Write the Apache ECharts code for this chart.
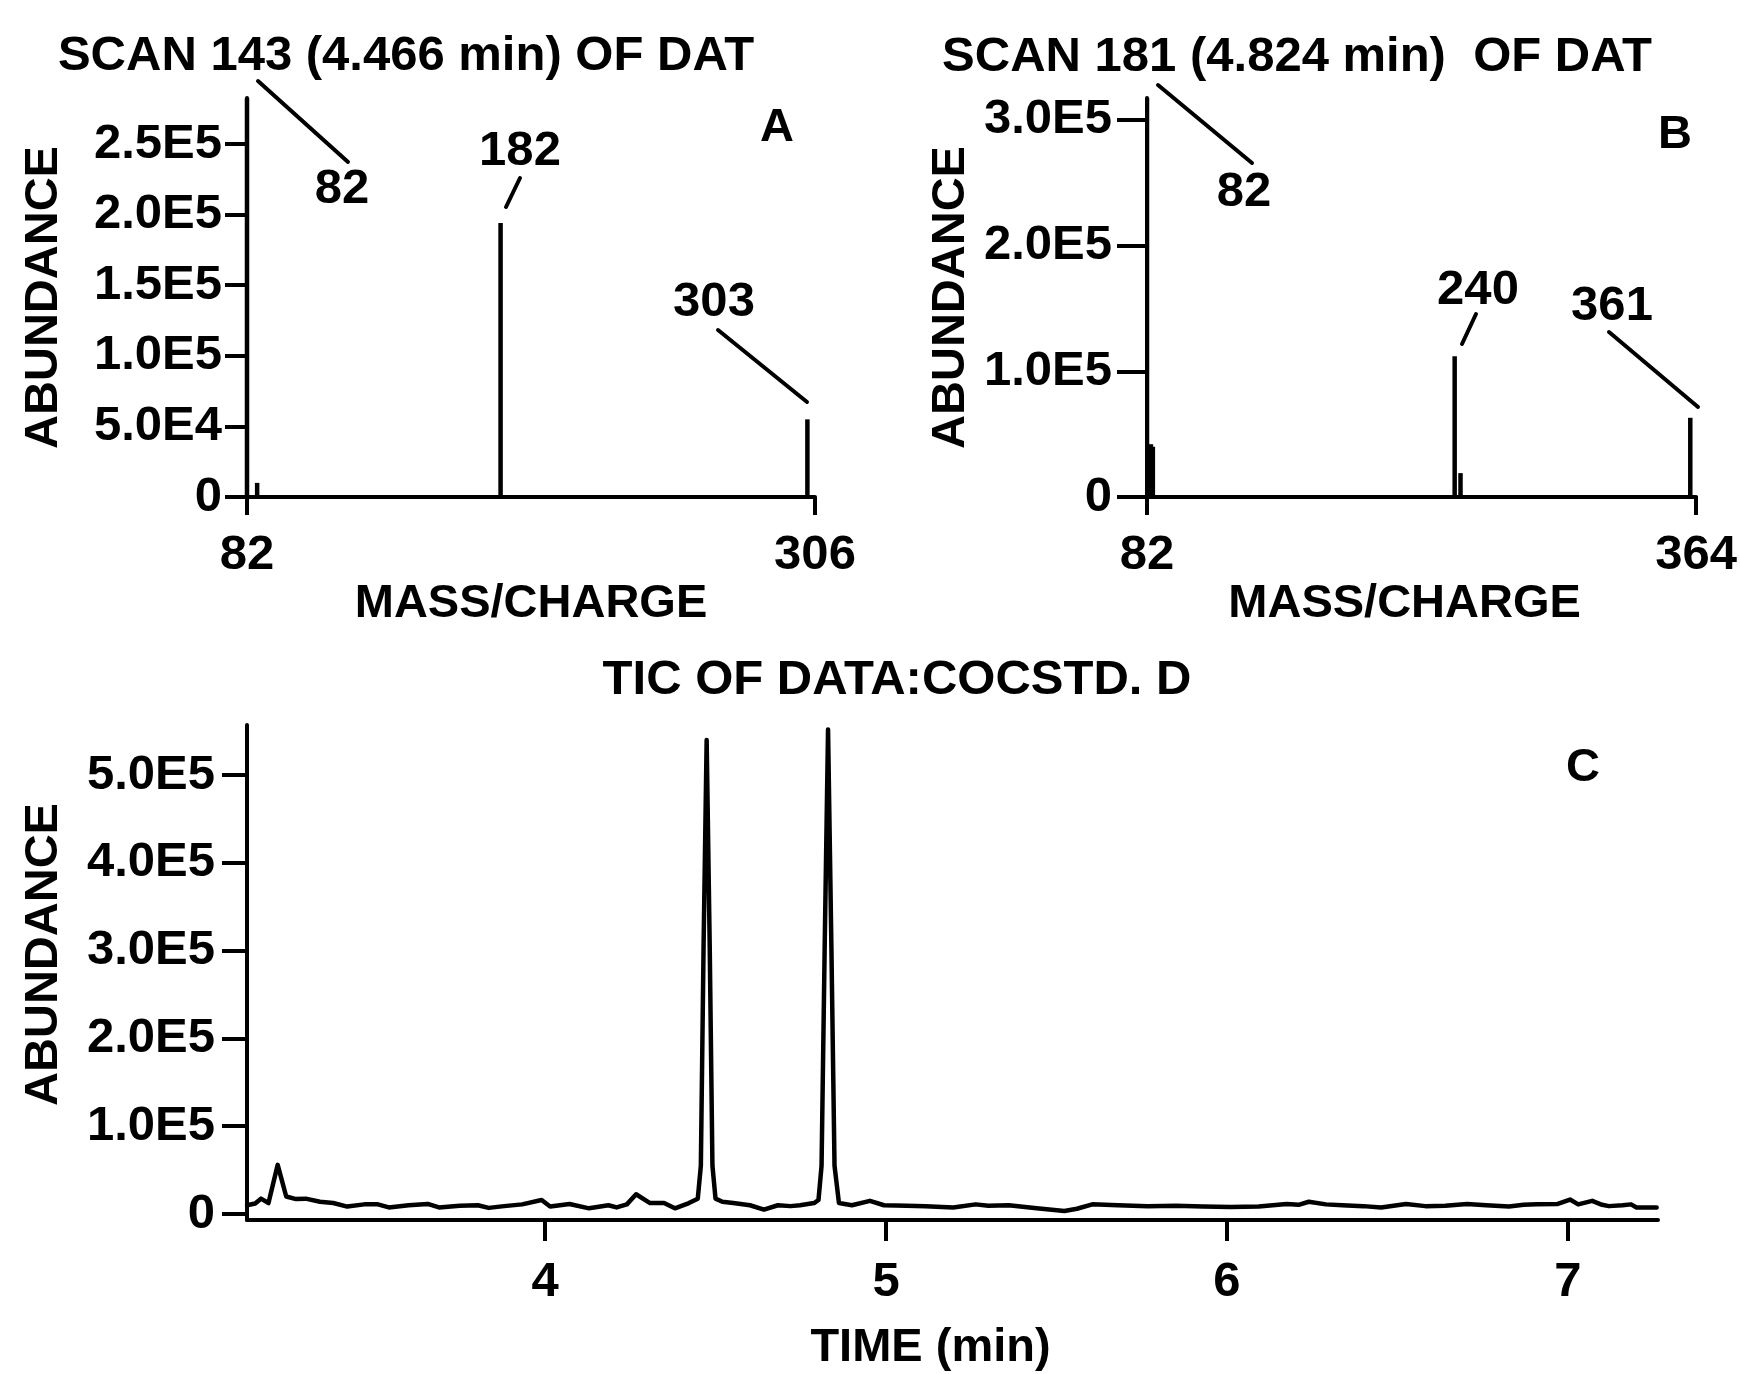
<!DOCTYPE html>
<html>
<head>
<meta charset="utf-8">
<script src="https://cdn.jsdelivr.net/npm/echarts@6/dist/echarts.min.js"></script>
<style>
  html, body { margin: 0; padding: 0; background: #fff; }
  #chart { width: 1740px; height: 1374px; }
</style>
</head>
<body>
<div id="chart"></div>
<script>
// spectrum A: scan 143
const massA = [82, 86, 182, 303];
const abundA = [300000, 10000, 194000, 55000];
// spectrum B: scan 181
const massB = [82, 84, 85, 240, 243, 361];
const abundB = [330000, 42000, 40000, 112000, 19000, 63000];
// total ion chromatogram
const ticTime = [
  3.126, 3.15, 3.167, 3.189, 3.216, 3.241, 3.27, 3.298, 3.34, 3.379,
  3.42, 3.47, 3.51, 3.542, 3.6, 3.656, 3.689, 3.75, 3.803, 3.835,
  3.88, 3.933, 3.99, 4.015, 4.072, 4.129, 4.186, 4.21, 4.24, 4.267,
  4.308, 4.349, 4.381, 4.422, 4.448, 4.457, 4.465, 4.474, 4.483, 4.491,
  4.5, 4.52, 4.552, 4.601, 4.642, 4.683, 4.72, 4.748, 4.789, 4.802,
  4.811, 4.82, 4.83, 4.84, 4.849, 4.862, 4.9, 4.953, 4.994, 5.06,
  5.116, 5.197, 5.263, 5.3, 5.36, 5.442, 5.523, 5.56, 5.605, 5.68,
  5.768, 5.85, 5.93, 6.01, 6.093, 6.175, 6.21, 6.24, 6.29, 6.338,
  6.4, 6.452, 6.525, 6.582, 6.64, 6.704, 6.76, 6.827, 6.87, 6.908,
  6.97, 7.006, 7.03, 7.071, 7.1, 7.12, 7.16, 7.185, 7.201, 7.26
];
const ticAbund = [
  10000, 12000, 17500, 12500, 56000, 20000, 17000, 17500, 14000, 12500,
  8500, 11000, 11000, 7500, 10000, 11500, 7500, 9500, 10000, 7000,
  9000, 11000, 16000, 8500, 11500, 6500, 10000, 7500, 11000, 22500,
  12500, 12500, 6500, 12500, 17500, 55000, 305000, 540000, 305000, 55000,
  17500, 14000, 12500, 10000, 5000, 10000, 9000, 10000, 12500, 16000,
  55000, 300000, 552000, 300000, 55000, 12500, 10000, 15000, 10000, 9500,
  9000, 7500, 11000, 9500, 10000, 6500, 3500, 6000, 11000, 10000,
  9000, 9500, 8500, 8000, 8500, 11500, 10500, 14000, 11000, 10000,
  9000, 7500, 11500, 9000, 9500, 11500, 10000, 8500, 10500, 11000,
  11500, 16500, 11000, 15000, 10500, 9000, 10000, 11000, 7500, 7500
];
// ticks and labels
const xTicksA = [82, 306];
const yTicksA = [0, 50000, 100000, 150000, 200000, 250000];
const yLabelsA = ['0', '5.0E4', '1.0E5', '1.5E5', '2.0E5', '2.5E5'];
const xTicksB = [82, 364];
const yTicksB = [0, 100000, 200000, 300000];
const yLabelsB = ['0', '1.0E5', '2.0E5', '3.0E5'];
const xTicksC = [4, 5, 6, 7];
const yTicksC = [0, 100000, 200000, 300000, 400000, 500000];
const yLabelsC = ['0', '1.0E5', '2.0E5', '3.0E5', '4.0E5', '5.0E5'];

const FONT = "'Liberation Sans', Arial, sans-serif";
const INK = '#000';
const LW = 4;

const pairs = (xs, ys) => xs.map((x, i) => [x, ys[i]]);
const labelFor = (ticks, labels) => (v) => {
  const i = ticks.indexOf(v);
  return i < 0 ? '' : labels[i];
};
const txt = (size) => ({ color: INK, fontSize: size, fontFamily: FONT, fontWeight: 'bold' });

function xAxisOf(grid, min, max, ticks, tickLen, margin, name, nameGap, padding) {
  return {
    gridIndex: grid, type: 'value', min: min, max: max,
    axisLine: { show: true, onZero: false, lineStyle: { color: INK, width: LW } },
    axisTick: { show: true, customValues: ticks, length: tickLen, lineStyle: { color: INK, width: LW } },
    axisLabel: Object.assign({ customValues: ticks, margin: margin, formatter: (v) => String(v) }, txt(49)),
    splitLine: { show: false },
    name: name, nameLocation: 'middle', nameGap: nameGap,
    nameTextStyle: Object.assign({ padding: padding }, txt(47))
  };
}

function yAxisOf(grid, min, max, ticks, labels, tickLen, margin, nameGap, padding) {
  return {
    gridIndex: grid, type: 'value', min: min, max: max,
    axisLine: { show: true, onZero: false, lineStyle: { color: INK, width: LW } },
    axisTick: { show: true, customValues: ticks, length: tickLen, lineStyle: { color: INK, width: LW } },
    axisLabel: Object.assign({ customValues: ticks, margin: margin, formatter: labelFor(ticks, labels) }, txt(49)),
    splitLine: { show: false },
    name: 'ABUNDANCE', nameLocation: 'middle', nameGap: nameGap,
    nameTextStyle: Object.assign({ padding: padding }, txt(47))
  };
}

// annotations (pixel layout)
const notes = [
  { t: 'SCAN 143 (4.466 min) OF DAT', x: 406, y: 56, s: 49 },
  { t: 'SCAN 181 (4.824 min)  OF DAT', x: 1297, y: 57, s: 49 },
  { t: 'TIC OF DATA:COCSTD. D', x: 897, y: 680, s: 49 },
  { t: 'A', x: 777, y: 128, s: 47 },
  { t: 'B', x: 1675, y: 135, s: 47 },
  { t: 'C', x: 1583, y: 768, s: 47 },
  { t: '82', x: 342, y: 189, s: 49 },
  { t: '182', x: 520, y: 151, s: 49 },
  { t: '303', x: 714, y: 302, s: 49 },
  { t: '82', x: 1244, y: 192, s: 49 },
  { t: '240', x: 1478, y: 290, s: 49 },
  { t: '361', x: 1612, y: 306, s: 49 }
];
const leaders = [
  [258, 81, 348, 162], [520, 178, 506, 207], [718, 330, 807, 402],
  [1158, 85, 1252, 163], [1476, 314, 1462, 344], [1609, 332, 1698, 407]
];

const chart = echarts.init(document.getElementById('chart'));
chart.setOption({
  animation: false,
  backgroundColor: '#fff',
  grid: [
    { left: 247, top: 98, right: 925, bottom: 877 },
    { left: 1147, top: 98, right: 35, bottom: 877 },
    { left: 247, top: 725, right: 82, bottom: 154 }
  ],
  xAxis: [
    xAxisOf(0, 82, 306, xTicksA, 18, 34, 'MASS/CHARGE', 77, [0, 0, 0, 0]),
    xAxisOf(1, 82, 364, xTicksB, 18, 34, 'MASS/CHARGE', 79, [0, 34, 0, 0]),
    xAxisOf(2, 3.126, 7.264, xTicksC, 21, 38, 'TIME (min)', 105, [0, 44, 0, 0])
  ],
  yAxis: [
    yAxisOf(0, 0, 282600, yTicksA, yLabelsA, 22, 25, 179, [0, 0, 0, 0]),
    yAxisOf(1, 0, 317400, yTicksB, yLabelsB, 30, 35, 172, [0, 0, 0, 0]),
    yAxisOf(2, -6800, 557000, yTicksC, yLabelsC, 25, 32, 179, [0, 0, 0, 36])
  ],
  series: [
    {
      type: 'bar', xAxisIndex: 0, yAxisIndex: 0, barWidth: 4.5,
      data: pairs(massA, abundA), itemStyle: { color: INK }, silent: true
    },
    {
      type: 'bar', xAxisIndex: 1, yAxisIndex: 1, barWidth: 4.5,
      data: pairs(massB, abundB), itemStyle: { color: INK }, silent: true
    },
    {
      type: 'line', xAxisIndex: 2, yAxisIndex: 2, showSymbol: false,
      data: pairs(ticTime, ticAbund),
      lineStyle: { color: INK, width: 4.5, join: 'round', cap: 'round' }, silent: true
    }
  ],
  graphic: [
    ...notes.map((n) => ({
      type: 'text', x: n.x, y: n.y, silent: true,
      style: { text: n.t, fill: INK, font: 'bold ' + n.s + 'px ' + FONT, align: 'center', verticalAlign: 'middle' }
    })),
    ...leaders.map((l) => ({
      type: 'line', silent: true,
      shape: { x1: l[0], y1: l[1], x2: l[2], y2: l[3] },
      style: { stroke: INK, lineWidth: LW, lineCap: 'round' }
    }))
  ]
});
</script>
</body>
</html>
